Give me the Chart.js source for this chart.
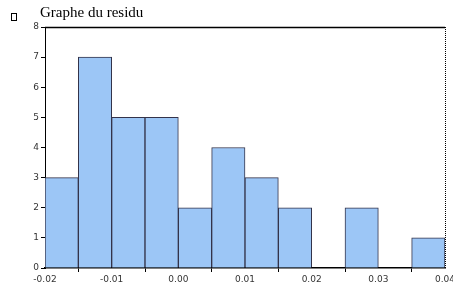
<!DOCTYPE html>
<html><head><meta charset="utf-8">
<script src="https://cdn.jsdelivr.net/npm/chart.js@4"></script>
<style>html,body{margin:0;padding:0;background:#fff}#w{width:453px;height:288px}</style>
</head><body><div id="w"><canvas id="c"></canvas></div>
<script>
const binCenters = [-0.0175,-0.0125,-0.0075,-0.0025,0.0025,0.0075,0.0125,0.0175,0.0225,0.0275,0.0325,0.0375];
const counts = [3,7,5,5,2,4,3,2,0,2,0,1];
const xTicks = [-0.02,-0.01,0.00,0.01,0.02,0.03,0.04];
const yTicks = [0,1,2,3,4,5,6,7,8];
const title = "Graphe du residu";

const frame = {
  id:'frame',
  afterDraw(ch){
    const c=ch.ctx, a=ch.chartArea;
    c.save();
    c.strokeStyle='#000'; c.lineWidth=1.5;
    c.beginPath(); c.moveTo(a.left,a.top+0.5); c.lineTo(a.right,a.top+0.5); c.stroke();
    c.lineWidth=1; c.setLineDash([1,1]);
    c.beginPath(); c.moveTo(a.right+0.5,a.top); c.lineTo(a.right+0.5,a.bottom); c.stroke();
    c.setLineDash([]);
    c.font='15px "Liberation Serif"'; c.fillStyle='#000'; c.textBaseline='alphabetic';
    c.fillText(title,40,17);
    c.strokeStyle='#000'; c.lineWidth=1;
    c.strokeRect(11.5,13.5,5,7);
    c.restore();
  }
};

new Chart(document.getElementById('c'),{
  type:'bar',
  data:{datasets:[{
    data: binCenters.map((x,i)=>({x:x,y:counts[i]})),
    backgroundColor:'#9cc6f6',
    borderColor:'#33334a',
    borderWidth:1,
    barPercentage:1, categoryPercentage:1
  }]},
  options:{
    responsive:true, maintainAspectRatio:false, animation:false,
    layout:{padding:{left:0,right:8,top:27,bottom:0}},
    plugins:{legend:{display:false},tooltip:{enabled:false}},
    scales:{
      x:{type:'linear',min:-0.02,max:0.04,offset:false,
        afterBuildTicks(s){s.ticks=xTicks.map(v=>({value:v}));},
        afterFit(s){s.height=20;s.paddingLeft=0;s.paddingRight=0;},
        border:{color:'#000',width:1.5},
        grid:{drawOnChartArea:false,tickLength:4,color:'#000'},
        ticks:{color:'#333',font:{size:9,family:'DejaVu Sans'},padding:2,maxRotation:0,
          callback:v=>v.toFixed(2)}
      },
      y:{min:0,max:8,
        afterBuildTicks(s){s.ticks=yTicks.map(v=>({value:v}));},
        afterFit(s){s.width=45;s.paddingTop=0;s.paddingBottom=0;},
        border:{color:'#000',width:1,dash:[1,1]},
        grid:{drawOnChartArea:false,tickLength:4,color:'#000'},
        ticks:{color:'#333',font:{size:9,family:'DejaVu Sans'},padding:2}
      }
    }
  },
  plugins:[frame]
});
</script></body></html>
